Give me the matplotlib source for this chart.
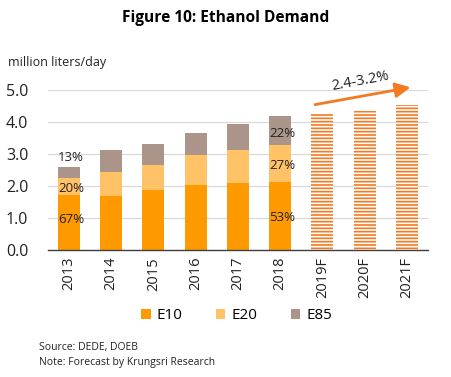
import matplotlib
matplotlib.use("Agg")
import matplotlib.pyplot as plt
import numpy as np

plt.rcParams['font.family'] = ['Open Sans', 'DejaVu Sans']
plt.rcParams['hatch.linewidth'] = 1.2

years = ['2013', '2014', '2015', '2016', '2017', '2018']
forecast_years = ['2019F', '2020F', '2021F']
e10 = [1.72, 1.69, 1.88, 2.03, 2.09, 2.13]
e20 = [0.54, 0.75, 0.78, 0.94, 1.04, 1.15]
e85 = [0.33, 0.69, 0.65, 0.69, 0.81, 0.91]
forecast = [4.25, 4.35, 4.54]
yticks = [0.0, 1.0, 2.0, 3.0, 4.0, 5.0]
pct_labels = {0: ['67%', '20%', '13%'], 5: ['53%', '27%', '22%']}
growth_text = '2.4-3.2%'

c10, c20, c85, cf = '#FF9900', '#FFC266', '#AB958B', '#F47920'

fig = plt.figure(figsize=(4.51, 3.77), dpi=100)
ax = fig.add_axes([0.106, 0.337, 0.843, 0.424])

x = np.arange(len(years))
xf = np.arange(len(years), len(years) + len(forecast_years))
w = 0.52
b1 = ax.bar(x, e10, w, color=c10, label='E10', zorder=3)
b2 = ax.bar(x, e20, w, bottom=e10, color=c20, label='E20', zorder=3)
bot85 = np.array(e10) + np.array(e20)
b3 = ax.bar(x, e85, w, bottom=bot85, color=c85, label='E85', zorder=3)
ax.bar(xf, forecast, w, facecolor='white', edgecolor=cf, hatch='-----', linewidth=0, zorder=3)

# percentage labels
label_offsets = {0: [-0.78, -0.06, 0.47], 5: [-1.12, -0.07, -0.08]}
for i, labs in pct_labels.items():
    mids = [e10[i] / 2, e10[i] + e20[i] / 2, bot85[i] + e85[i] / 2]
    for lab, m, off in zip(labs, mids, label_offsets[i]):
        ax.text(i + 0.05, m + off if off > -0.5 else e10[i] + off, lab, ha='center', va='center',
                fontsize=9.5, color='#222222', zorder=5)

# growth arrow
ax.annotate('', xy=(8.15, 5.10), xytext=(5.76, 4.53),
            arrowprops=dict(arrowstyle='-|>,head_length=0.9,head_width=0.45', color=cf, lw=2),
            annotation_clip=False, zorder=6)
ax.text(6.89, 5.27, growth_text, ha='center', va='center', rotation=10.5, fontsize=10.5,
        color='#222222', zorder=6, clip_on=False)

ax.set_xlim(-0.5, 8.5)
ax.set_ylim(0, 5.0)
ax.set_yticks(yticks)
ax.set_yticklabels([f'{v:.1f}' for v in yticks], fontsize=11.5, color='#222222')
ax.set_xticks(list(x) + list(xf))
ax.set_xticklabels(years + forecast_years, rotation=90, fontsize=10.5, color='#222222')
ax.tick_params(axis='y', length=0, pad=14)
ax.tick_params(axis='x', length=0, pad=5)
ax.grid(axis='y', color='#D9D9D9', lw=0.9, zorder=0)
for s in ['top', 'right', 'left']:
    ax.spines[s].set_visible(False)
ax.spines['bottom'].set_color('#404040')
ax.spines['bottom'].set_linewidth(1.0)
ax.spines['bottom'].set_zorder(4)

fig.text(0.5, 0.953, 'Figure 10: Ethanol Demand', ha='center', va='center', fontsize=11.2, fontweight='bold')
fig.text(0.018, 0.835, 'million liters/day', ha='left', va='center', fontsize=9, color='#222222')

leg = fig.legend(handles=[b1, b2, b3], labels=['E10', 'E20', 'E85'], loc='center',
                 bbox_to_anchor=(0.525, 0.162), ncol=3, frameon=False, fontsize=11,
                 handlelength=0.6, handleheight=0.6, handletextpad=0.4, columnspacing=2.2)

fig.text(0.087, 0.079, 'Source: DEDE, DOEB', ha='left', va='center', fontsize=7.5, color='#222222')
fig.text(0.087, 0.038, 'Note: Forecast by Krungsri Research', ha='left', va='center', fontsize=7.5, color='#222222')

fig.savefig('out.png', dpi=100)
